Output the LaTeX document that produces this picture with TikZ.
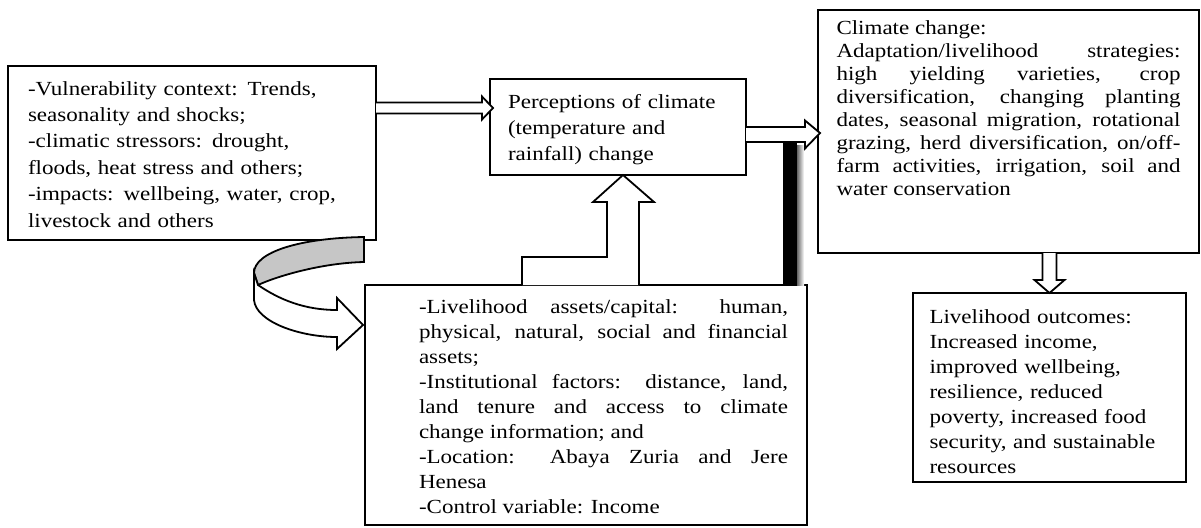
\documentclass[tikz,border=0pt]{standalone}
\usepackage{fontspec}
\setmainfont{Liberation Serif}[FakeStretch=1.15]
\usetikzlibrary{calc}

\tikzset{
    box/.style={draw, line width=0.9pt, anchor=north west, outer sep=0pt, inner ysep=0pt},
    blockarrow/.style={draw, fill=white, line width=0.9pt, line join=miter},
}

\begin{document}
\begin{tikzpicture}[x=0.5pt, y=-0.5pt]
    \useasboundingbox (0,0) rectangle (1201,527);
    \node[box, inner xsep=10pt, text width=164pt, align=left, text height=14.5pt, text depth=72.5pt,
        font=\fontsize{10}{13.2}\selectfont] (vuln) at (8,66)
        {-Vulnerability context: Trends,\\ seasonality and shocks;\\ -climatic stressors: drought,\\
        floods, heat stress and others;\\ -impacts: wellbeing, water, crop,\\ livestock and others};
    \node[box, inner xsep=9pt, text width=110pt, align=left, text height=14.5pt, text depth=33.5pt,
        font=\fontsize{10}{13}\selectfont] (percep) at (490,79)
        {Perceptions of climate\\ (temperature and\\ rainfall) change};
    \node[box, inner xsep=9.25pt, text width=172pt, align=justify, text height=12pt, text depth=109.5pt,
        font=\fontsize{10}{11.5}\selectfont] (strat) at (818,10)
        {Climate change:\\ Adaptation/livelihood strategies:\linebreak high yielding varieties, crop\linebreak
        diversification, changing planting\linebreak dates, seasonal migration, rotational\linebreak
        grazing, herd diversification, on/off-\linebreak farm activities, irrigation, soil and\linebreak
        water conservation};
    \node[box, inner xsep=9.5pt, text height=14pt, text depth=106pt,
        font=\fontsize{10}{12.5}\selectfont] (assets) at (365,285)
        {\hspace*{17.5pt}\begin{minipage}[t]{184.5pt}
        -Livelihood assets/capital: human,\linebreak physical, natural, social and financial\linebreak
        assets;\\ -Institutional factors: distance, land,\linebreak land tenure and access to climate\linebreak
        change information; and\\ -Location: Abaya Zuria and Jere\linebreak Henesa\\ -Control variable: Income
        \end{minipage}};
    \node[box, inner xsep=8.25pt, text width=120pt, align=left, text height=15pt, text depth=79.5pt,
        font=\fontsize{10}{12.5}\selectfont] (outcome) at (913,293)
        {Livelihood outcomes:\\ Increased income,\\ improved wellbeing,\\ resilience, reduced\\
        poverty, increased food\\ security, and sustainable\\ resources};

    \coordinate (ab) at ($(percep.west)+(0,-19)$);
    \draw[blockarrow] ($(vuln.east |- ab)+(0,-5.5)$) -- ($(ab)+(-8,-5.5)$) -- ($(ab)+(-8,-11.5)$)
        -- ($(ab)+(3,0)$) -- ($(ab)+(-8,11.5)$) -- ($(ab)+(-8,5.5)$) -- ($(vuln.east |- ab)+(0,5.5)$);

    \coordinate (bc) at ($(strat.west)+(0,3)$);
    \coordinate (bartop) at ($(assets.north east |- bc)+(-17,7.5)$);
    \coordinate (barbot) at ($(assets.north east)+(-17,0)$);
    \shade[left color=black!60, right color=white] ($(bartop)+(7,3)$) rectangle ($(barbot)+(14,0)$);
    \fill ($(bartop)+(-7,0)$) rectangle ($(barbot)+(7,0)$);
    \draw[blockarrow] ($(percep.east |- bc)+(0,-7.5)$) -- ($(bc)+(-13,-7.5)$) -- ($(bc)+(-13,-14)$)
        -- ($(bc)+(2,-1.5)$) -- ($(bc)+(-13,14)$) -- ($(bc)+(-13,7.5)$) -- ($(percep.east |- bc)+(0,7.5)$);

    \coordinate (up) at ($(percep.south)+(5,0)$);
    \coordinate (upbot) at (up |- assets.north);
    \draw[blockarrow] ($(upbot)+(-101,0)$) -- ($(upbot)+(-101,-28)$) -- ($(upbot)+(-16,-28)$)
        -- ($(up)+(-16,27)$) -- ($(up)+(-30,27)$) -- (up) -- ($(up)+(31,27)$) -- ($(up)+(16,27)$)
        -- ($(upbot)+(16,0)$);

    \coordinate (ce) at (outcome.north |- strat.south);
    \draw[blockarrow] ($(ce)+(-7,0)$) -- ($(outcome.north)+(-7,-13)$) -- ($(outcome.north)+(-15,-13)$)
        -- (outcome.north) -- ($(outcome.north)+(15,-13)$) -- ($(outcome.north)+(7,-13)$) -- ($(ce)+(7,0)$);

    \coordinate (ctip) at ($(assets.north west)+(-2,40)$);
    \draw[blockarrow, fill=gray!45] ($(ctip)+(1,-88)$) .. controls ($(ctip)+(-63,-87)$) and ($(ctip)+(-109,-73)$)
        .. ($(ctip)+(-109,-52)$) -- ($(ctip)+(-105,-40)$) .. controls ($(ctip)+(-88,-48)$) and ($(ctip)+(-43,-62)$)
        .. ($(ctip)+(1,-63)$) -- cycle;
    \draw[blockarrow] ($(ctip)+(-105,-40)$) .. controls ($(ctip)+(-83,-25)$) and ($(ctip)+(-58,-15)$)
        .. ($(ctip)+(-26,-15)$) -- ($(ctip)+(-26,-27)$) -- (ctip) -- ($(ctip)+(-26,24)$) -- ($(ctip)+(-26,12)$)
        .. controls ($(ctip)+(-63,12)$) and ($(ctip)+(-107,-3)$) .. ($(ctip)+(-109,-25)$) -- ($(ctip)+(-109,-52)$) -- cycle;
\end{tikzpicture}
\end{document}
